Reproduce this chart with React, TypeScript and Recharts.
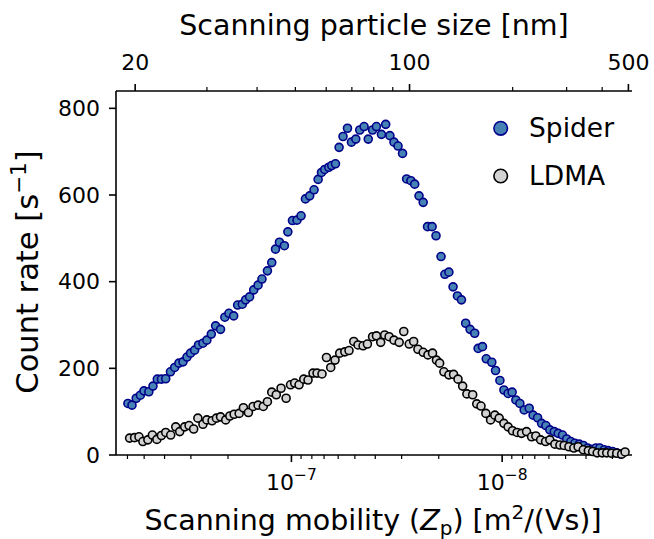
import { ScatterChart, Scatter, XAxis, YAxis, Legend } from 'recharts';

// Spider scan: scanning mobility [m^2/(Vs)] and count rate [1/s]
const spiderMobility = [
  5.97e-7, 5.71e-7, 5.45e-7, 5.21e-7, 5.01e-7, 4.75e-7, 4.54e-7, 4.33e-7, 4.14e-7, 3.95e-7,
  3.75e-7, 3.58e-7, 3.42e-7, 3.27e-7, 3.13e-7, 3.01e-7, 2.88e-7, 2.76e-7, 2.63e-7, 2.52e-7,
  2.4e-7, 2.29e-7, 2.17e-7, 2.07e-7, 1.98e-7, 1.88e-7, 1.8e-7, 1.71e-7, 1.65e-7, 1.58e-7,
  1.51e-7, 1.44e-7, 1.38e-7, 1.3e-7, 1.24e-7, 1.19e-7, 1.14e-7, 1.08e-7, 1.04e-7, 9.89e-8,
  9.41e-8, 9.0e-8, 8.58e-8, 8.19e-8, 7.81e-8, 7.47e-8, 7.2e-8, 6.95e-8, 6.65e-8, 6.44e-8,
  6.18e-8, 5.94e-8, 5.69e-8, 5.42e-8, 5.19e-8, 4.95e-8, 4.74e-8, 4.52e-8, 4.32e-8, 4.12e-8,
  3.95e-8, 3.74e-8, 3.57e-8, 3.41e-8, 3.26e-8, 3.12e-8, 2.97e-8, 2.84e-8, 2.71e-8, 2.6e-8,
  2.48e-8, 2.37e-8, 2.26e-8, 2.15e-8, 2.06e-8, 1.95e-8, 1.87e-8, 1.79e-8, 1.71e-8, 1.63e-8,
  1.56e-8, 1.49e-8, 1.42e-8, 1.35e-8, 1.3e-8, 1.24e-8, 1.19e-8, 1.12e-8, 1.075e-8, 1.025e-8,
  9.81e-9, 9.37e-9, 8.97e-9, 8.61e-9, 8.24e-9, 7.86e-9, 7.44e-9, 7.13e-9, 6.79e-9, 6.5e-9,
  6.2e-9, 5.94e-9, 5.66e-9, 5.42e-9, 5.17e-9, 4.94e-9, 4.72e-9, 4.52e-9, 4.31e-9, 4.12e-9,
  3.93e-9, 3.76e-9, 3.59e-9, 3.44e-9, 3.28e-9, 3.14e-9, 2.99e-9, 2.86e-9, 2.74e-9,
];
const spiderCounts = [
  119, 115, 131, 138, 148, 146, 159, 175, 175, 176,
  192, 202, 212, 215, 226, 235, 242, 254, 258, 265,
  279, 298, 290, 318, 327, 321, 346, 348, 358, 365,
  381, 392, 406, 425, 444, 475, 491, 483, 515, 541,
  542, 552, 591, 598, 612, 636, 652, 659, 664, 668,
  672, 710, 735, 754, 722, 729, 750, 758, 729, 750,
  758, 740, 763, 737, 722, 713, 696, 637, 633, 625,
  598, 583, 527, 527, 506, 458, 417, 422, 388, 367,
  358, 304, 290, 281, 246, 250, 222, 214, 195, 172,
  150, 142, 145, 127, 119, 104, 108, 92, 86, 73,
  68, 58, 54, 50, 46, 37, 31, 27, 25, 22,
  16, 13, 16, 16, 12, 10, 8, 5, 2,
];

// LDMA scan
const ldmaMobility = [
  5.86e-7, 5.55e-7, 5.29e-7, 5.07e-7, 4.8e-7, 4.57e-7, 4.35e-7, 4.14e-7, 3.95e-7, 3.74e-7,
  3.54e-7, 3.39e-7, 3.21e-7, 3.06e-7, 2.91e-7, 2.78e-7, 2.63e-7, 2.52e-7, 2.38e-7, 2.27e-7,
  2.17e-7, 2.05e-7, 1.96e-7, 1.87e-7, 1.77e-7, 1.69e-7, 1.6e-7, 1.52e-7, 1.44e-7, 1.36e-7,
  1.3e-7, 1.24e-7, 1.18e-7, 1.12e-7, 1.06e-7, 1.01e-7, 9.65e-8, 9.2e-8, 8.74e-8, 8.34e-8,
  7.9e-8, 7.56e-8, 7.16e-8, 6.82e-8, 6.51e-8, 6.21e-8, 5.9e-8, 5.58e-8, 5.33e-8, 5.06e-8,
  4.83e-8, 4.57e-8, 4.36e-8, 4.12e-8, 3.95e-8, 3.77e-8, 3.61e-8, 3.44e-8, 3.26e-8, 3.08e-8,
  2.93e-8, 2.76e-8, 2.63e-8, 2.51e-8, 2.37e-8, 2.25e-8, 2.14e-8, 2.05e-8, 1.98e-8, 1.89e-8,
  1.79e-8, 1.7e-8, 1.62e-8, 1.54e-8, 1.47e-8, 1.38e-8, 1.32e-8, 1.26e-8, 1.195e-8, 1.135e-8,
  1.083e-8, 1.033e-8, 9.81e-9, 9.37e-9, 8.93e-9, 8.49e-9, 8.09e-9, 7.66e-9, 7.25e-9, 6.92e-9,
  6.57e-9, 6.22e-9, 5.94e-9, 5.62e-9, 5.32e-9, 5.08e-9, 4.82e-9, 4.57e-9, 4.36e-9, 4.12e-9,
  3.9e-9, 3.72e-9, 3.54e-9, 3.35e-9, 3.19e-9, 3.02e-9, 2.86e-9, 2.71e-9, 2.61e-9,
];
const ldmaCounts = [
  39, 40, 42, 31, 35, 46, 36, 45, 52, 46,
  65, 54, 65, 68, 60, 85, 71, 81, 79, 85,
  88, 81, 90, 94, 96, 109, 98, 112, 115, 112,
  123, 145, 139, 154, 131, 162, 166, 162, 175, 173,
  189, 189, 187, 225, 202, 219, 235, 238, 241, 262,
  254, 252, 256, 273, 275, 260, 277, 273, 265, 260,
  285, 256, 262, 244, 237, 231, 235, 219, 212, 192,
  185, 186, 175, 159, 141, 139, 118, 113, 96, 81,
  92, 85, 73, 65, 56, 52, 50, 54, 42, 44,
  35, 31, 35, 25, 23, 22, 19, 16, 19, 12,
  10, 8, 5, 5, 5, 4, 4, 2, 7,
];

// axes
const mobilityDomain = [2.42e-9, 6.8e-7];
const mobilityTicks = [
  6e-7, 5e-7, 4e-7, 3e-7, 2e-7, 1e-7,
  9e-8, 8e-8, 7e-8, 6e-8, 5e-8, 4e-8, 3e-8, 2e-8, 1e-8,
  9e-9, 8e-9, 7e-9, 6e-9, 5e-9, 4e-9, 3e-9,
];
const sizeTicks = [20, 30, 40, 50, 60, 70, 80, 90, 100, 200, 300, 400, 500];
const sizeLabels = [20, 100, 500];
const countTicks = [0, 200, 400, 600, 800];

const spiderData = spiderMobility.map((z, i) => ({ z, c: spiderCounts[i] }));
const ldmaData = ldmaMobility.map((z, i) => ({ z, c: ldmaCounts[i] }));

// electrical mobility of a singly charged particle in air (Cunningham slip correction)
const mobilityOfSize = (dNm: number) => {
  const d = dNm * 1e-9;
  const kn = (2 * 67.3e-9) / d;
  const cc = 1 + kn * (1.257 + 0.4 * Math.exp(-1.1 / kn));
  return (1.602e-19 * cc) / (3 * Math.PI * 1.81e-5 * d);
};
const sizeTickMobility = sizeTicks.map(mobilityOfSize);

const FONT = 'DejaVu Sans';
const TICK_FS = 22;
const TITLE_FS = 28.5;

const isDecade = (v: number) => Math.abs(Math.log10(v) - Math.round(Math.log10(v))) < 1e-6;

const BottomTick = (props: any) => {
  const { x, y, payload } = props;
  const major = isDecade(payload.value);
  const exp = Math.round(Math.log10(payload.value));
  return (
    <g>
      <line x1={x} x2={x} y1={y} y2={y + (major ? 7 : 4)} stroke="#000" strokeWidth={major ? 1.6 : 1.2} />
      {major && (
        <text x={x} y={y + 35} textAnchor="middle" fontSize={TICK_FS} fill="#000">
          10
          <tspan dy={-10} fontSize={15.5}>{`\u2212${-exp}`}</tspan>
        </text>
      )}
    </g>
  );
};

const TopTick = (props: any) => {
  const { x, y, payload } = props;
  const idx = sizeTickMobility.indexOf(payload.value);
  const size = sizeTicks[idx];
  const major = sizeLabels.includes(size);
  return (
    <g>
      <line x1={x} x2={x} y1={y} y2={y - (major ? 7 : 4)} stroke="#000" strokeWidth={major ? 1.6 : 1.2} />
      {major && (
        <text x={x} y={y - 21.5} textAnchor="middle" fontSize={TICK_FS} fill="#000">
          {size}
        </text>
      )}
    </g>
  );
};

const dot = (fill: string, stroke: string) => (p: any) =>
  <circle cx={p.cx} cy={p.cy} r={4} fill={fill} stroke={stroke} strokeWidth={1.6} />;

const noDot = () => <g />;

const renderLegend = () => (
  <svg width={160} height={100} style={{ fontFamily: FONT }}>
    <circle cx={20.7} cy={23.3} r={6.8} fill="#4682B4" stroke="#00008B" strokeWidth={1.6} />
    <text x={49} y={31.5} fontSize={26.5} fill="#000">Spider</text>
    <circle cx={20.7} cy={71} r={6.8} fill="#D3D3D3" stroke="#000" strokeWidth={1.6} />
    <text x={49} y={79.5} fontSize={26.5} fill="#000">LDMA</text>
  </svg>
);

const BottomTitle = () => (
  <text x={373} y={530} textAnchor="middle" fontSize={TITLE_FS} fill="#000">
    Scanning mobility (<tspan fontStyle="italic">Z</tspan>
    <tspan fontSize={20} dy={5}>p</tspan>
    <tspan dy={-5}>) [m</tspan>
    <tspan fontSize={20} dy={-11}>2</tspan>
    <tspan dy={11}>/(Vs)]</tspan>
  </text>
);

const TopTitle = () => (
  <text x={374} y={35} textAnchor="middle" fontSize={TITLE_FS} fill="#000">
    Scanning particle size [nm]
  </text>
);

const LeftTitle = () => (
  <text x={38} y={272} transform="rotate(-90, 38, 272)" textAnchor="middle" fontSize={30.5} fill="#000">
    Count rate [s
    <tspan dy={-12} fontSize={21.5}>{'\u22121'}</tspan>
    <tspan dy={12}>]</tspan>
  </text>
);

export default function App() {
  return (
    <div style={{ position: 'absolute', left: 0, top: 0, width: 654, height: 539, background: '#fff', fontFamily: FONT }}>
      <ScatterChart width={654} height={539} margin={{ top: 0, right: 22, bottom: 0, left: 0 }}>
        <XAxis
          xAxisId="bottom"
          dataKey="z"
          type="number"
          scale="log"
          domain={mobilityDomain}
          allowDataOverflow
          reversed
          ticks={mobilityTicks}
          interval={0}
          tick={<BottomTick />}
          tickLine={false}
          tickSize={0}
          tickMargin={0}
          axisLine={{ stroke: '#000', strokeWidth: 1.6 }}
          height={84}
          label={<BottomTitle />}
        />
        <XAxis
          xAxisId="top"
          dataKey="z"
          orientation="top"
          type="number"
          scale="log"
          domain={mobilityDomain}
          allowDataOverflow
          reversed
          ticks={sizeTickMobility}
          interval={0}
          tick={<TopTick />}
          tickLine={false}
          tickSize={0}
          tickMargin={0}
          axisLine={{ stroke: '#000', strokeWidth: 1.6 }}
          height={91}
          label={<TopTitle />}
        />
        <YAxis
          yAxisId="left"
          dataKey="c"
          type="number"
          domain={[0, 840]}
          ticks={countTicks}
          interval={0}
          tick={{ fontSize: TICK_FS, fill: '#000' }}
          tickLine={{ stroke: '#000', strokeWidth: 1.6 }}
          tickSize={7}
          tickMargin={9}
          axisLine={{ stroke: '#000', strokeWidth: 1.6 }}
          width={116}
          label={<LeftTitle />}
        />
        <YAxis
          yAxisId="right"
          dataKey="c"
          orientation="right"
          type="number"
          domain={[0, 840]}
          tick={false}
          tickLine={false}
          axisLine={{ stroke: '#000', strokeWidth: 1.6 }}
          width={0}
        />
        {/* carries the top (particle size) axis; draws nothing */}
        <Scatter
          data={spiderData}
          xAxisId="top"
          yAxisId="right"
          shape={noDot}
          legendType="none"
          isAnimationActive={false}
        />
        <Scatter
          name="Spider"
          data={spiderData}
          xAxisId="bottom"
          yAxisId="left"
          shape={dot('#4682B4', '#00008B')}
          isAnimationActive={false}
        />
        <Scatter
          name="LDMA"
          data={ldmaData}
          xAxisId="bottom"
          yAxisId="left"
          shape={dot('#D3D3D3', '#000')}
          isAnimationActive={false}
        />
        <Legend
          layout="horizontal"
          verticalAlign="middle"
          align="center"
          content={renderLegend}
          wrapperStyle={{ position: 'absolute', left: 480, top: 105, width: 160, height: 100 }}
        />
      </ScatterChart>
    </div>
  );
}
